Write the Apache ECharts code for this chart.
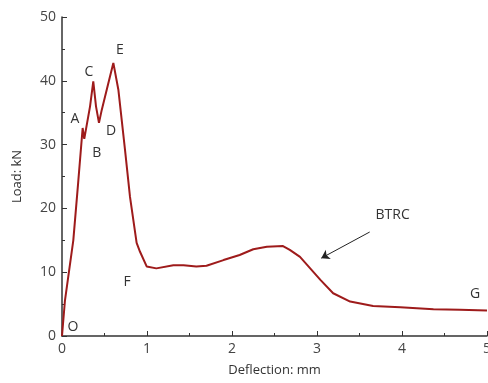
<!DOCTYPE html>
<html>
<head>
<meta charset="utf-8">
<script src="https://cdn.jsdelivr.net/npm/echarts@6/dist/echarts.min.js"></script>
<style>
  html, body { margin: 0; padding: 0; background: #fff; }
  #chart { width: 488px; height: 383px; }
</style>
</head>
<body>
<div id="chart"></div>
<script>
// deflection (mm) / load (kN)
const deflection = [0, 0.035, 0.133, 0.19, 0.243, 0.262, 0.282, 0.33, 0.368, 0.40, 0.435, 0.467, 0.545, 0.604,
  0.663, 0.741, 0.80, 0.878, 0.918, 0.996, 1.11, 1.31, 1.43, 1.58, 1.70, 1.90, 2.09, 2.25, 2.41, 2.60,
  2.68, 2.80, 3.04, 3.19, 3.39, 3.66, 3.98, 4.37, 4.68, 5.0];
const load = [0, 5.6, 15, 24, 32.6, 30.9, 30.7, 36, 39.9, 36, 33.4, 35.4, 39.6, 42.8,
  38.6, 29.2, 21.8, 14.6, 13.2, 10.9, 10.6, 11.1, 11.1, 10.9, 11.0, 11.9, 12.7, 13.6, 14.0, 14.1,
  13.5, 12.4, 8.8, 6.7, 5.4, 4.7, 4.5, 4.2, 4.1, 4.0];

const xTicks = [0, 1, 2, 3, 4, 5];
const yTicks = [0, 10, 20, 30, 40, 50];

// point labels
const labelNames = ['O', 'A', 'B', 'C', 'D', 'E', 'F', 'G', 'BTRC'];
const labelX = [0.13, 0.153, 0.41, 0.318, 0.576, 0.68, 0.765, 4.86, 3.89];
const labelY = [1.4, 34, 28.7, 41.4, 32.1, 44.8, 8.5, 6.6, 19.0];

// arrow pointing at the curve
const arrowFrom = [3.62, 16.3];
const arrowTo = [3.05, 12.2];

const chart = echarts.init(document.getElementById('chart'));
const font = '"Open Sans", "Noto Sans", sans-serif';

const option = {
  animation: false,
  grid: { left: 62, right: 1, top: 17, bottom: 47, outerBoundsMode: 'none' },
  xAxis: {
    type: 'value',
    min: xTicks[0],
    max: xTicks[xTicks.length - 1],
    interval: 1,
    name: 'Deflection: mm',
    nameLocation: 'middle',
    nameGap: 28,
    nameTextStyle: { fontFamily: font, fontSize: 13, color: '#333' },
    axisLine: { lineStyle: { color: '#333', width: 1.5 } },
    axisTick: { inside: true, length: 5, lineStyle: { color: '#333' } },
    minorTick: { show: true, splitNumber: 2, length: 3, lineStyle: { color: '#333' } },
    axisLabel: { fontFamily: font, fontSize: 14, color: '#444', margin: 6, hideOverlap: false },
    splitLine: { show: false }
  },
  yAxis: {
    type: 'value',
    min: yTicks[0],
    max: yTicks[yTicks.length - 1],
    interval: 10,
    name: 'Load: kN',
    nameLocation: 'middle',
    nameGap: 38,
    nameTextStyle: { fontFamily: font, fontSize: 13, color: '#333' },
    axisLine: { show: true, lineStyle: { color: '#333', width: 1.5 } },
    axisTick: { show: true, inside: true, length: 5, lineStyle: { color: '#333' } },
    minorTick: { show: true, splitNumber: 2, length: 3, lineStyle: { color: '#333' } },
    axisLabel: { fontFamily: font, fontSize: 14, color: '#444', margin: 6 },
    splitLine: { show: false }
  },
  series: [
    {
      type: 'line',
      data: deflection.map((x, i) => [x, load[i]]),
      showSymbol: false,
      smooth: false,
      lineStyle: { color: '#9e1b1b', width: 2 },
      markPoint: {
        symbolSize: 0,
        label: {
          show: true,
          position: 'inside',
          fontFamily: font,
          fontSize: 14,
          color: '#333',
          formatter: (p) => p.name
        },
        data: labelNames.map((n, i) => ({ name: n, coord: [labelX[i], labelY[i]] }))
      },
      markLine: {
        silent: true,
        symbol: ['none', 'arrow'],
        symbolSize: 8,
        label: { show: false },
        lineStyle: { color: '#222', width: 1, type: 'solid' },
        data: [[{ coord: arrowFrom }, { coord: arrowTo }]]
      }
    }
  ]
};
chart.setOption(option);
</script>
</body>
</html>
